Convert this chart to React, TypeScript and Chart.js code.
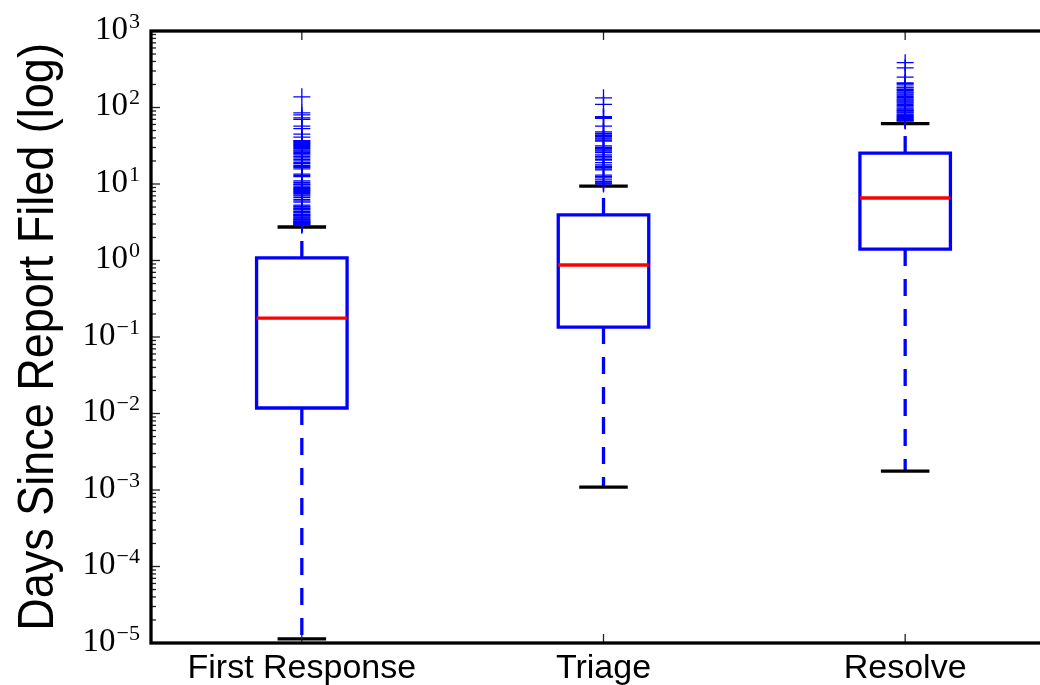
import React, { useEffect, useRef } from "react";
import { Chart, registerables } from "chart.js";

Chart.register(...registerables);

// ---- data ----
const categories = ["First Response", "Triage", "Resolve"];
const q1 = [0.0118, 0.135, 1.41];
const medians = [0.177, 0.873, 6.56];
const q3 = [1.08, 3.94, 25.4];
const whiskerLow = [1.13e-5, 0.00109, 0.00177];
const whiskerHigh = [2.74, 9.4, 61.4];

const outliersFirstResponse = [
  138, 85, 80, 73, 70, 57, 53, 45, 41, 37, 36, 35, 34, 33, 32, 31, 30, 29, 28, 27,
  26, 25, 24, 23, 22, 21, 20, 19, 18.5, 17.5, 17, 16.5, 15.8, 13.5, 13, 12.5, 11,
  10.5, 10, 9.8, 9.4, 9, 8.7, 8.5, 8.2, 8, 7.7, 7.5, 7.2, 7, 6.7, 6.3, 6, 5.8, 5.3,
  5.1, 5.0, 4.8, 4.7, 4.6, 4.4, 4.3, 4.2, 4.0, 3.95, 3.9, 3.8, 3.7, 3.6, 3.5, 3.45,
  3.4, 3.3, 3.25, 3.2, 3.15, 3.1, 3.05, 3.0, 2.95, 2.9,
];
const outliersTriage = [
  134, 110, 76, 74, 72, 57, 48, 46, 45, 43, 42, 40, 39, 37.5, 36.5, 31.5, 30, 29, 28,
  27, 25.7, 24, 23, 22, 21, 20.5, 19, 17.8, 17, 16.5, 15.8, 15.3, 13.1, 12.5, 12,
  11.3, 10.7, 10.3, 10,
];
const outliersResolve = [
  385, 330, 250, 210, 205, 197, 185, 180, 172, 168, 160, 155, 150, 145, 140, 135,
  130, 126, 122, 118, 114, 110, 106, 102, 98, 95, 92, 90, 87, 85, 82, 80, 78, 76,
  74, 72, 70, 69, 67.5, 66.5,
];
const outliers = [outliersFirstResponse, outliersTriage, outliersResolve];

const yTickExponents = [-5, -4, -3, -2, -1, 0, 1, 2, 3];
const yTitle = "Days Since Report Filed (log)";

// ---- styling constants ----
const BOX_HALF = 0.15;
const CAP_HALF = 0.075;
const BLUE = "#0000ff";
const RED = "#ff0000";
const LW = 3.3;

export default function App() {
  const ref = useRef<HTMLCanvasElement>(null);

  useEffect(() => {
    const canvas = ref.current;
    if (!canvas) return;

    const datasets: any[] = [];
    categories.forEach((_, i) => {
      const x = i + 1;
      // box
      datasets.push({
        data: [
          { x: x - BOX_HALF, y: q1[i] },
          { x: x + BOX_HALF, y: q1[i] },
          { x: x + BOX_HALF, y: q3[i] },
          { x: x - BOX_HALF, y: q3[i] },
          { x: x - BOX_HALF, y: q1[i] },
        ],
        showLine: true,
        borderColor: BLUE,
        borderWidth: LW,
        borderJoinStyle: "miter",
        borderCapStyle: "square",
        pointRadius: 0,
        fill: false,
        order: 5,
      });
      // median
      datasets.push({
        data: [
          { x: x - BOX_HALF, y: medians[i] },
          { x: x + BOX_HALF, y: medians[i] },
        ],
        showLine: true,
        borderColor: RED,
        borderWidth: LW,
        pointRadius: 0,
        order: 4,
      });
      // whiskers
      datasets.push({
        data: [
          { x, y: q3[i] },
          { x, y: whiskerHigh[i] },
        ],
        showLine: true,
        borderColor: BLUE,
        borderWidth: LW,
        borderDash: [17, 13],
        pointRadius: 0,
        order: 3,
      });
      datasets.push({
        data: [
          { x, y: q1[i] },
          { x, y: whiskerLow[i] },
        ],
        showLine: true,
        borderColor: BLUE,
        borderWidth: LW,
        borderDash: [17, 13],
        pointRadius: 0,
        order: 3,
      });
      // caps
      [whiskerHigh[i], whiskerLow[i]].forEach((v) => {
        datasets.push({
          data: [
            { x: x - CAP_HALF, y: v },
            { x: x + CAP_HALF, y: v },
          ],
          showLine: true,
          borderColor: "#000000",
          borderWidth: LW,
          borderCapStyle: "square",
          pointRadius: 0,
          order: 2,
        });
      });
      // fliers
      datasets.push({
        data: outliers[i].map((v) => ({ x, y: v })),
        showLine: false,
        pointStyle: "cross",
        pointRadius: 8.5,
        pointBorderWidth: 1.3,
        pointBorderColor: BLUE,
        pointBackgroundColor: "rgba(0,0,0,0)",
        order: 1,
      });
    });

    const deco = {
      id: "deco",
      afterDraw(chart: any) {
        const { ctx, chartArea: a, scales } = chart;
        const ys = scales.y;
        const xs = scales.x;
        ctx.save();
        const seg = (x1: number, y1: number, x2: number, y2: number) => {
          ctx.beginPath();
          ctx.moveTo(x1, y1);
          ctx.lineTo(x2, y2);
          ctx.stroke();
        };
        // ticks
        ctx.strokeStyle = "#222";
        ctx.lineWidth = 1.3;
        yTickExponents.forEach((e, k) => {
          const v = Math.pow(10, e);
          const py = ys.getPixelForValue(v);
          seg(a.left, py, a.left + 9, py);
          seg(a.right, py, a.right - 9, py);
          if (k < yTickExponents.length - 1) {
            for (let m = 2; m <= 9; m++) {
              const pm = ys.getPixelForValue(m * v);
              seg(a.left, pm, a.left + 5, pm);
              seg(a.right, pm, a.right - 5, pm);
            }
          }
        });
        categories.forEach((_, i) => {
          const px = xs.getPixelForValue(i + 1);
          seg(px, a.bottom, px, a.bottom - 9);
          seg(px, a.top, px, a.top + 9);
        });
        // spines
        ctx.strokeStyle = "#000";
        ctx.lineWidth = 3.3;
        ctx.strokeRect(a.left, a.top, a.right - a.left, a.bottom - a.top);

        // y tick labels: 10^e
        ctx.fillStyle = "#000";
        ctx.textBaseline = "alphabetic";
        yTickExponents.forEach((e) => {
          const py = ys.getPixelForValue(Math.pow(10, e));
          const base = py + 7.5;
          const right = a.left - 11;
          const expText = e < 0 ? "\u2212" + Math.abs(e) : String(e);
          ctx.font = '22px "Liberation Serif"';
          ctx.textAlign = "right";
          const ew = ctx.measureText(expText).width;
          ctx.fillText(expText, right, base - 11);
          ctx.font = '33px "Liberation Serif"';
          ctx.fillText("10", right - ew - 1, base);
        });

        // x category labels
        ctx.font = '34px "Liberation Sans"';
        ctx.textAlign = "center";
        categories.forEach((c, i) => {
          const px = xs.getPixelForValue(i + 1);
          ctx.fillText(c, px, a.bottom + 35);
        });

        // y title
        ctx.save();
        ctx.translate(53, (a.top + a.bottom) / 2);
        ctx.rotate(-Math.PI / 2);
        ctx.scale(1, 1.12);
        ctx.font = '45px "Liberation Sans"';
        ctx.textAlign = "center";
        ctx.fillText(yTitle, 0, 0);
        ctx.restore();

        ctx.restore();
      },
    };

    const chart = new Chart(canvas, {
      type: "scatter",
      data: { datasets },
      options: {
        animation: false,
        responsive: false,
        devicePixelRatio: 1,
        layout: { padding: { left: 151, top: 31, right: 14, bottom: 42 } },
        plugins: { legend: { display: false }, tooltip: { enabled: false } },
        scales: {
          x: { type: "linear", min: 0.5, max: 3.5, display: false },
          y: { type: "logarithmic", min: 1e-5, max: 1e3, display: false },
        },
      },
      plugins: [deco],
    });
    return () => chart.destroy();
  }, []);

  return (
    <div
      style={{
        position: "fixed",
        left: 0,
        top: 0,
        width: 1040,
        height: 685,
        overflow: "hidden",
        background: "#fff",
      }}
    >
      <canvas ref={ref} width={1070} height={685} style={{ display: "block" }} />
    </div>
  );
}
